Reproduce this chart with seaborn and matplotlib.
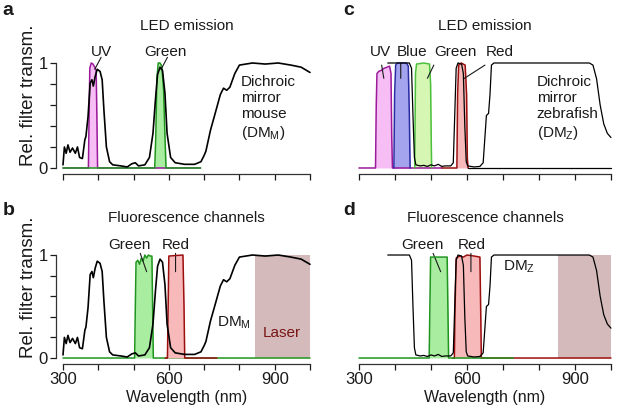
import numpy as np
import pandas as pd
import matplotlib
matplotlib.use("Agg")
import matplotlib.pyplot as plt
import seaborn as sns

# ---- data (wavelength nm, relative transmission) ----
dm_mouse_nm = [300, 304, 309, 314, 320, 327, 335, 341, 347, 355, 362, 365, 371, 377, 382, 386, 391,
               397, 405, 411, 416, 423, 432, 441, 464, 482, 495, 505, 514, 532, 545, 555, 562, 568,
               575, 582, 589, 595, 605, 618, 645, 673, 691, 700, 705, 718, 728, 746, 755, 764, 773,
               787, 800, 837, 873, 910, 946, 975, 1000]
dm_mouse_val = [0.03, 0.2, 0.14, 0.22, 0.15, 0.19, 0.14, 0.2, 0.1, 0.09, 0.27, 0.30, 0.49, 0.81, 0.84,
                0.78, 0.87, 0.94, 0.92, 0.84, 0.55, 0.2, 0.06, 0.03, 0.02, 0.01, 0.04, 0.05, 0.02, 0.03,
                0.1, 0.33, 0.65, 0.89, 0.96, 0.93, 0.71, 0.33, 0.1, 0.05, 0.035, 0.035, 0.06, 0.12, 0.16,
                0.36, 0.48, 0.70, 0.76, 0.74, 0.77, 0.90, 0.98, 1.0, 0.99, 1.0, 0.98, 0.96, 0.91]

dm_zebra_nm = [380, 440, 446, 450, 454, 458, 470, 480, 490, 500, 510, 520, 530, 540, 555, 562, 566,
               570, 575, 585, 590, 594, 598, 602, 620, 636, 645, 650, 654, 660, 664, 668, 675, 940,
               950, 960, 970, 980, 990, 1000]
dm_zebra_val = [1.0, 1.0, 0.95, 0.5, 0.1, 0.03, 0.02, 0.025, 0.015, 0.03, 0.02, 0.035, 0.015, 0.02,
                0.02, 0.05, 0.5, 0.95, 1.0, 0.99, 0.9, 0.4, 0.06, 0.02, 0.01, 0.015, 0.05, 0.3, 0.5,
                0.52, 0.7, 0.98, 1.0, 1.0, 0.98, 0.85, 0.6, 0.42, 0.33, 0.29]

# mouse LEDs (panel a)
uv_m_nm = [300, 372, 374, 376, 380, 385, 390, 394, 396, 398, 690]
uv_m_val = [0, 0, 0.5, 0.95, 1.0, 0.99, 0.96, 0.93, 0.5, 0, 0]
green_m_nm = [300, 560, 563, 566, 570, 575, 580, 585, 589, 592, 690]
green_m_val = [0, 0, 0.3, 0.85, 1.0, 1.0, 0.97, 0.75, 0.3, 0, 0]

# zebrafish LEDs (panel c)
uv_z_nm = [300, 346, 348, 350, 355, 362, 370, 378, 385, 389, 391, 393, 530]
uv_z_val = [0, 0, 0.6, 0.9, 0.92, 0.93, 0.95, 0.96, 0.97, 0.9, 0.3, 0, 0]
blue_z_nm = [397, 399, 402, 406, 432, 437, 440, 442]
blue_z_val = [0, 0.7, 0.98, 1.0, 1.0, 0.97, 0.5, 0]
green_z_nm = [455, 457, 460, 480, 496, 499, 501, 502]
green_z_val = [0, 0.9, 0.99, 1.0, 0.99, 0.8, 0.2, 0]
red_z_nm = [530, 572, 574, 577, 584, 595, 599, 601, 603, 1000]
red_z_val = [0, 0, 0.7, 0.98, 1.0, 0.98, 0.7, 0.1, 0, 0]

# mouse fluorescence filters (panel b)
green_fm_nm = [300, 503, 505, 507, 512, 517, 522, 527, 532, 537, 542, 547, 552, 554, 556, 1000]
green_fm_val = [0, 0, 0.5, 0.93, 0.95, 0.91, 0.97, 0.94, 1.0, 0.97, 1.0, 0.99, 0.99, 0.5, 0, 0]
red_fm_nm = [590, 596, 598, 600, 640, 643, 645, 736]
red_fm_val = [0, 0, 0.5, 0.99, 1.0, 0.5, 0, 0]

# zebrafish fluorescence filters (panel d)
green_fz_nm = [300, 495, 497, 499, 545, 547, 549, 729]
green_fz_val = [0, 0, 0.5, 0.98, 0.98, 0.5, 0, 0]
red_fz_nm = [560, 565, 567, 570, 580, 590, 600, 620, 636, 638, 640, 1000]
red_fz_val = [0, 0, 0.5, 0.97, 0.99, 0.98, 1.0, 0.99, 0.98, 0.5, 0, 0]

laser_mouse = (845, 1000)
laser_zebra = (854, 1000)

# colours
C_UV_F, C_UV_E = "#f7bdf5", "#9a1a9a"
C_BL_F, C_BL_E = "#a3a3ee", "#2b2ba3"
C_GR_F, C_GR_E = "#a9eea0", "#1f951f"
C_GZ_F, C_GZ_E = "#d6f7b4", "#4cbf3c"
C_RD_F, C_RD_E = "#f7b9b9", "#9c0f0f"
C_LASER = "#d4baba"
TXT = "#1a1a1a"

sns.set_style("ticks")
plt.rcParams["font.family"] = ["Liberation Sans", "DejaVu Sans"]
plt.rcParams["mathtext.fontset"] = "custom"
plt.rcParams["mathtext.rm"] = "Liberation Sans"
plt.rcParams["mathtext.it"] = "Liberation Sans:italic"
plt.rcParams["font.size"] = 11
plt.rcParams["text.color"] = TXT
plt.rcParams["axes.labelcolor"] = TXT
plt.rcParams["xtick.color"] = TXT
plt.rcParams["ytick.color"] = TXT

FS = 11

fig = plt.figure(figsize=(6.17, 4.15), dpi=100)
ax_a = fig.add_axes([0.1021, 0.5952, 0.4003, 0.2530])
ax_b = fig.add_axes([0.1021, 0.1373, 0.4003, 0.2482])
ax_c = fig.add_axes([0.5818, 0.5952, 0.4084, 0.2530])
ax_d = fig.add_axes([0.5818, 0.1373, 0.4084, 0.2482])


def curve(ax, nm, val, color, lw=1.1, zorder=3):
    df = pd.DataFrame({"nm": nm, "val": val})
    sns.lineplot(data=df, x="nm", y="val", ax=ax, color=color, lw=lw, sort=False,
                 estimator=None, zorder=zorder, clip_on=False)


def band(ax, nm, val, fill, edge, zorder=2):
    ax.fill_between(nm, val, 0, color=fill, lw=0, zorder=zorder, clip_on=False)
    curve(ax, nm, val, edge, lw=1.1, zorder=zorder + 0.5)


def style(ax, left_axis, bottom_labels):
    ax.set_xlim(300, 1000)
    ax.set_ylim(0, 1)
    ax.set_xlabel("")
    ax.set_ylabel("")
    ax.spines["top"].set_visible(False)
    ax.spines["right"].set_visible(False)
    ax.spines["bottom"].set_position(("outward", 4))
    ax.spines["bottom"].set_bounds(300, 1000)
    ax.set_xticks(np.arange(300, 1001, 100))
    if bottom_labels:
        ax.set_xticklabels(["300", "", "", "600", "", "", "900", ""])
        ax.set_xlabel("Wavelength (nm)", labelpad=2, fontsize=11.5)
    else:
        ax.set_xticklabels([])
    if left_axis:
        ax.spines["left"].set_position(("outward", 5))
        ax.spines["left"].set_bounds(0, 1)
        ax.set_yticks(np.arange(0, 1.01, 0.2))
        ax.set_yticklabels(["0", "", "", "", "", "1"])
        ax.set_ylabel("Rel. filter transm.", fontsize=13.5)
        ax.yaxis.set_label_coords(-0.105, 0.69)
    else:
        ax.spines["left"].set_visible(False)
        ax.set_yticks([])
    for s in ax.spines.values():
        s.set_linewidth(0.9)
        s.set_color("#333333")
    ax.tick_params(length=4, width=0.9, pad=2, labelsize=12)
    ax.set_facecolor("none")


def label(ax, text, x, y, x0, y0, x1, y1):
    ax.text(x, y, text, ha="center", va="center", fontsize=FS)
    ax.annotate("", xy=(x1, y1), xytext=(x0, y0), annotation_clip=False,
                arrowprops=dict(arrowstyle="-", color=TXT, lw=0.8, shrinkA=0, shrinkB=0))


# ---- panel a ----
band(ax_a, uv_m_nm, uv_m_val, C_UV_F, C_UV_E)
band(ax_a, green_m_nm, green_m_val, C_GR_F, C_GR_E)
curve(ax_a, dm_mouse_nm, dm_mouse_val, "black", lw=1.2, zorder=4)
style(ax_a, True, False)
ax_a.set_title("LED emission", fontsize=FS, y=1.31, pad=0)
label(ax_a, "UV", 409, 1.105, 408, 1.054, 390, 0.94)
label(ax_a, "Green", 589, 1.105, 596, 1.054, 578, 0.94)
ax_a.text(805, 0.89, "Dichroic\nmirror\nmouse\n(DM$_\\mathrm{M}$)", ha="left", va="top",
          fontsize=FS, linespacing=1.2)

# ---- panel b ----
ax_b.axvspan(*laser_mouse, color=C_LASER, lw=0, zorder=1)
band(ax_b, green_fm_nm, green_fm_val, C_GR_F, C_GR_E)
band(ax_b, red_fm_nm, red_fm_val, C_RD_F, C_RD_E, zorder=2.6)
curve(ax_b, dm_mouse_nm, dm_mouse_val, "black", lw=1.2, zorder=4)
style(ax_b, True, True)
ax_b.set_title("Fluorescence channels", fontsize=FS, y=1.32, pad=0)
label(ax_b, "Green", 488, 1.097, 519, 1.016, 537, 0.838)
label(ax_b, "Red", 620, 1.097, 619, 1.016, 619, 0.838)
ax_b.text(737, 0.34, "DM$_\\mathrm{M}$", ha="left", va="center", fontsize=FS)
ax_b.text(866, 0.24, "Laser", ha="left", va="center", fontsize=FS, color="#7a1515")

# ---- panel c ----
band(ax_c, uv_z_nm, uv_z_val, C_UV_F, C_UV_E)
band(ax_c, blue_z_nm, blue_z_val, C_BL_F, C_BL_E)
band(ax_c, green_z_nm, green_z_val, C_GZ_F, C_GZ_E)
ax_c.fill_between(red_z_nm, red_z_val, 0, color=C_RD_F, lw=0, zorder=2)
curve(ax_c, red_z_nm[:-1], red_z_val[:-1], C_RD_E, zorder=2.5)
curve(ax_c, red_z_nm[-2:], red_z_val[-2:], "black", lw=0.9, zorder=2.5)
curve(ax_c, dm_zebra_nm, dm_zebra_val, "black", lw=0.9, zorder=4)
style(ax_c, False, False)
ax_c.set_title("LED emission", fontsize=FS, y=1.31, pad=0)
label(ax_c, "UV", 360, 1.108, 363, 0.98, 369, 0.854)
label(ax_c, "Blue", 447, 1.108, 416, 1.0, 416, 0.854)
label(ax_c, "Green", 569, 1.108, 508, 0.98, 490, 0.854)
label(ax_c, "Red", 692, 1.108, 650, 0.98, 590, 0.848)
ax_c.text(794, 0.89, "Dichroic\nmirror\nzebrafish\n(DM$_\\mathrm{Z}$)", ha="left", va="top",
          fontsize=FS, linespacing=1.2)

# ---- panel d ----
ax_d.axvspan(*laser_zebra, color=C_LASER, lw=0, zorder=1)
band(ax_d, red_fz_nm, red_fz_val, C_RD_F, C_RD_E)
band(ax_d, green_fz_nm, green_fz_val, C_GR_F, C_GR_E, zorder=2.6)
curve(ax_d, dm_zebra_nm, dm_zebra_val, "black", lw=0.9, zorder=4)
style(ax_d, False, True)
ax_d.set_title("Fluorescence channels", fontsize=FS, y=1.32, pad=0)
label(ax_d, "Green", 476, 1.097, 506, 1.016, 527, 0.838)
label(ax_d, "Red", 612, 1.097, 611, 1.016, 611, 0.838)
ax_d.text(699, 0.886, "DM$_\\mathrm{Z}$", ha="left", va="center", fontsize=FS)

# panel letters
for letter, x, y in [("a", 0.004, 0.995), ("b", 0.004, 0.513), ("c", 0.556, 0.995), ("d", 0.556, 0.513)]:
    fig.text(x, y, letter, fontsize=14, fontweight="bold", ha="left", va="top")

fig.savefig("out.png", dpi=100)
